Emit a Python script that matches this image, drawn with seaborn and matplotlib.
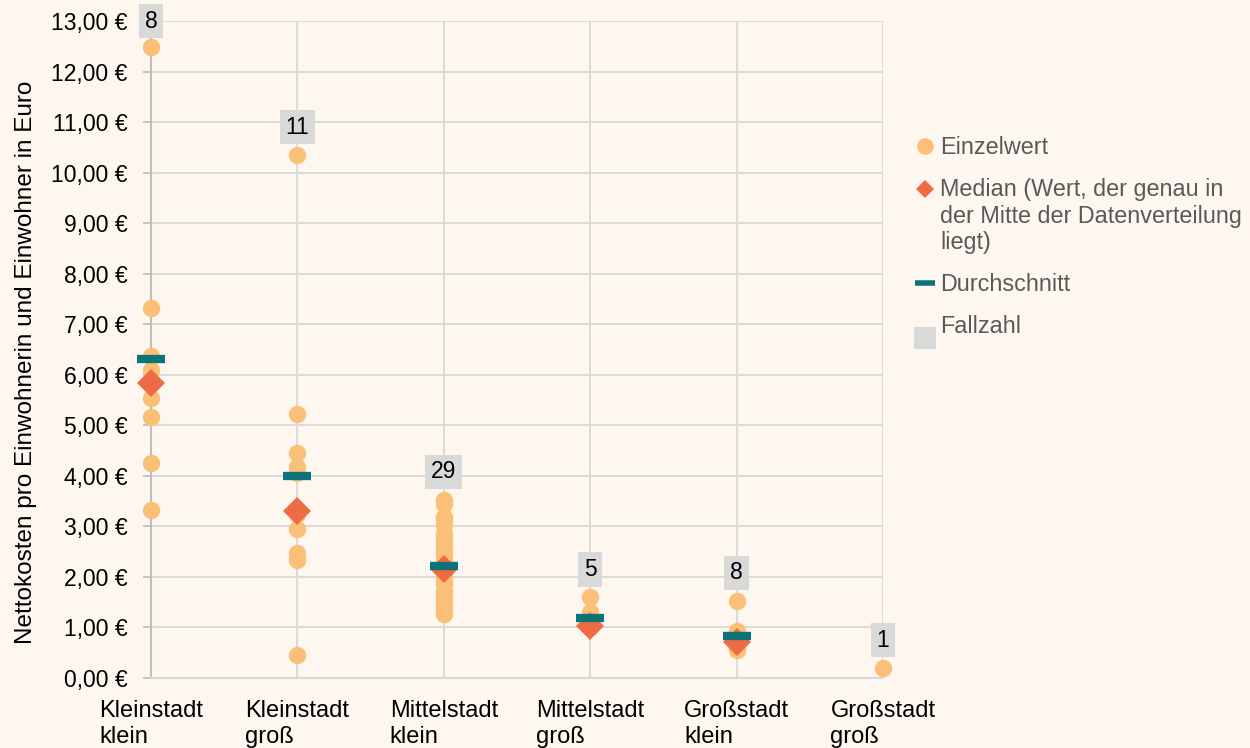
import numpy as np
import pandas as pd
import matplotlib
matplotlib.use("Agg")
import matplotlib.pyplot as plt
from matplotlib.lines import Line2D
from matplotlib.legend_handler import HandlerLine2D
from matplotlib.ticker import FuncFormatter, MultipleLocator
import seaborn as sns

# Kategorien (Gemeindegrößenklassen)
categories = ["Kleinstadt\nklein", "Kleinstadt\ngroß", "Mittelstadt\nklein",
              "Mittelstadt\ngroß", "Großstadt\nklein", "Großstadt\ngroß"]

# Einzelwerte in Euro pro Einwohner/in
kleinstadt_klein = [12.48, 7.33, 6.38, 6.10, 5.55, 5.17, 4.25, 3.33]
kleinstadt_gross = [10.35, 5.22, 4.45, 4.17, 4.05, 3.32, 3.25, 2.95, 2.47, 2.33, 0.45]
mittelstadt_klein = [1.27, 1.32, 1.40, 1.48, 1.55, 1.62, 1.72, 1.85, 1.95, 2.02,
                     2.08, 2.12, 2.14, 2.15, 2.16, 2.20, 2.28, 2.35, 2.45, 2.52,
                     2.60, 2.68, 2.75, 2.85, 3.02, 3.10, 3.18, 3.45, 3.53]
mittelstadt_gross = [1.60, 1.31, 1.02, 1.01, 1.00]
grossstadt_klein = [1.53, 0.92, 0.88, 0.80, 0.66, 0.62, 0.58, 0.55]
grossstadt_gross = [0.20]

medians = [5.83, 3.31, 2.16, 1.02, 0.72, np.nan]
means = [6.32, 4.00, 2.22, 1.19, 0.83, np.nan]
fallzahl = [8, 11, 29, 5, 8, 1]

groups = [kleinstadt_klein, kleinstadt_gross, mittelstadt_klein,
          mittelstadt_gross, grossstadt_klein, grossstadt_gross]

df = pd.DataFrame({
    "kategorie": [c for c, g in zip(categories, groups) for _ in g],
    "wert": [v for g in groups for v in g],
})

bg = "#fdf7f0"
orange = "#fac077"
red = "#ed6c45"
teal = "#0e7378"
grey = "#d9d9d9"


class ShiftedHandler(HandlerLine2D):
    # verschiebt das Legendensymbol vertikal (in Punkten)
    def __init__(self, dy=0, **kw):
        super().__init__(**kw)
        self.dy = dy

    def create_artists(self, legend, orig_handle, xdescent, ydescent, width,
                       height, fontsize, trans):
        arts = super().create_artists(legend, orig_handle, xdescent, ydescent,
                                      width, height, fontsize, trans)
        for a in arts:
            a.set_ydata(np.asarray(a.get_ydata()) + self.dy)
        return arts


sns.set_theme(style="white")
plt.rcParams["font.family"] = ["Liberation Sans", "DejaVu Sans"]

fig = plt.figure(figsize=(12.5, 7.48), dpi=100, facecolor=bg)
ax = fig.add_axes([0.1208, 0.0936, 0.5856, 0.8783])
ax.set_facecolor(bg)

sns.stripplot(data=df, x="kategorie", y="wert", order=categories, jitter=False,
              color=orange, size=12.5, linewidth=0, ax=ax, zorder=3, clip_on=False)

sns.pointplot(x=categories, y=medians, order=categories, color=red, errorbar=None,
              marker="D", linestyle="none", markersize=14, markeredgewidth=0,
              ax=ax, zorder=4, clip_on=False)
sns.pointplot(x=categories, y=means, order=categories, color=teal, errorbar=None,
              marker="_", linestyle="none", markersize=20, markeredgewidth=6,
              ax=ax, zorder=5, clip_on=False)

# Fallzahl-Kästchen über dem jeweils höchsten Wert
for i, (g, n) in enumerate(zip(groups, fallzahl)):
    ypos = min(max(g) + 0.55, 13.0)
    ax.text(i, ypos, str(n), ha="center", va="center", fontsize=16.5, color="black",
            bbox=dict(boxstyle="square,pad=0.25", facecolor=grey, edgecolor="none"),
            zorder=6, clip_on=False)

ax.set_xlim(0, len(categories) - 1)
ax.set_ylim(0, 13)
ax.yaxis.set_major_locator(MultipleLocator(1))
ax.yaxis.set_major_formatter(FuncFormatter(lambda v, p: f"{v:.2f} €".replace(".", ",")))
ax.grid(True, color=grey, linewidth=1.3, zorder=0)
ax.set_axisbelow(True)

for s in ["top", "right"]:
    ax.spines[s].set_visible(False)
ax.spines["left"].set_color("#bfbfbf")
ax.spines["left"].set_linewidth(1.5)
ax.spines["bottom"].set_color(grey)
ax.spines["bottom"].set_linewidth(1.5)

ax.tick_params(axis="y", left=True, length=6, width=1.3, color="#bfbfbf",
               labelsize=16.5, labelcolor="black", pad=11)
ax.tick_params(axis="x", bottom=False, labelsize=17, labelcolor="black", pad=10)
for lab in ax.get_xticklabels():
    lab.set_multialignment("left")
    lab.set_verticalalignment("top")

ax.set_xlabel("")
ax.set_ylabel("Nettokosten pro Einwohnerin und Einwohner in Euro", fontsize=17.5,
              color="black")
ax.yaxis.set_label_coords(-0.156, 0.48)

handles = [
    Line2D([], [], marker="o", linestyle="none", markerfacecolor=orange,
           markeredgewidth=0, markersize=12),
    Line2D([], [], marker="D", linestyle="none", markerfacecolor=red,
           markeredgewidth=0, markersize=9),
    Line2D([], [], marker="_", linestyle="none", color=teal,
           markeredgewidth=4, markersize=14),
    Line2D([], [], marker="s", linestyle="none", markerfacecolor=grey,
           markeredgewidth=0, markersize=16),
]
labels = ["Einzelwert",
          "Median (Wert, der genau in\nder Mitte der Datenverteilung\nliegt)",
          "Durchschnitt", "Fallzahl"]
leg = fig.legend(handles, labels, loc="upper left", bbox_to_anchor=(0.725, 0.83),
                 frameon=False, fontsize=16.8, handlelength=0.8, handletextpad=0.25,
                 labelspacing=0.8, borderaxespad=0,
                 handler_map={handles[1]: ShiftedHandler(dy=20),
                              handles[3]: ShiftedHandler(dy=-10)})
for t in leg.get_texts():
    t.set_color("#595959")

fig.savefig("out.png", dpi=100, facecolor=bg)
